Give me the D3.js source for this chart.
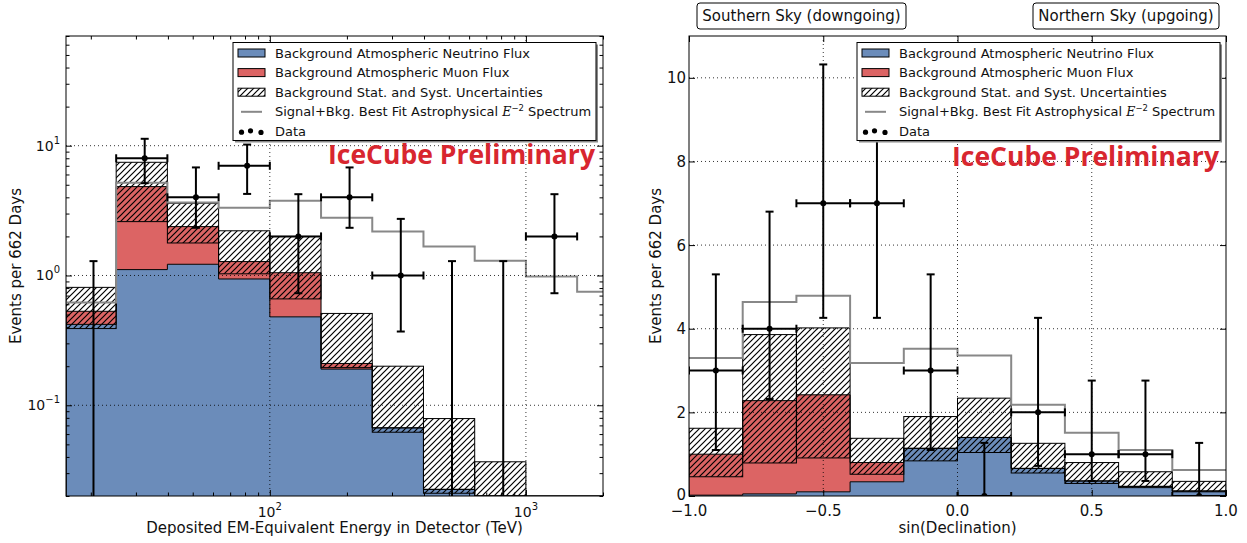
<!DOCTYPE html>
<html>
<head>
<meta charset="utf-8">
<script src="https://cdn.jsdelivr.net/npm/d3@7"></script>
<style>
body { margin: 0; background: #fff; }
svg { display: block; font-family: "DejaVu Sans", sans-serif; }
text { white-space: pre; }
</style>
</head>
<body>
<svg id="chart" width="1247" height="543"></svg>
<script>
// left panel: deposited energy (TeV), log bins
const energyEdges = [15.85, 25.12, 39.81, 63.10, 100, 158.5, 251.2, 398.1, 631.0, 1000, 1585, 2512];
const energyNu = [0.42, 1.11, 1.22, 0.94, 0.48, 0.19, 0.067, 0.0225, 0.008, 0, 0];
const energyMu = [0.11, 3.73, 1.16, 0.34, 0.57, 0.02, 0, 0, 0, 0, 0];
const energyBandLo = [0.39, 2.6, 1.78, 1.03, 0.66, 0.195, 0.062, 0.021, 0.005, 0, 0];
const energyBandHi = [0.81, 7.45, 3.6, 2.21, 2.0, 0.51, 0.2, 0.079, 0.0367, 0, 0];
const energySignal = [0.62, 5.19, 3.65, 3.33, 3.76, 2.79, 2.18, 1.67, 1.30, 0.98, 0.75];
const energyData = [0, 8, 4, 7, 2, 4, 1, 0, 0, 2];
const energyErrLo = [0, 5.14, 2.33, 4.25, 0.73, 2.33, 0.37, 0, 0, 0.73];
const energyErrHi = [1.29, 11.3, 6.8, 10.2, 4.23, 6.8, 2.73, 1.29, 1.29, 4.23];
const energyTicks = [100, 1000];
const energyTickExp = ['2', '3'];
const logCountTicks = [0.1, 1, 10];
const logCountTickExp = ['\u22121', '0', '1'];

// right panel: sin(declination)
const decEdges = [-1, -0.8, -0.6, -0.4, -0.2, 0, 0.2, 0.4, 0.6, 0.8, 1];
const decNu = [0.02, 0.05, 0.10, 0.34, 1.14, 1.40, 0.66, 0.36, 0.23, 0.12];
const decMu = [0.98, 2.23, 2.32, 0.46, 0, 0, 0, 0, 0, 0];
const decBandLo = [0.46, 0.79, 0.91, 0.52, 0.84, 1.04, 0.55, 0.30, 0.20, 0.10];
const decBandHi = [1.62, 3.86, 4.02, 1.38, 1.90, 2.34, 1.26, 0.80, 0.58, 0.35];
const decSignal = [3.30, 4.64, 4.79, 3.18, 3.52, 3.36, 2.18, 1.51, 1.10, 0.62];
const decData = [3, 4, 7, 7, 3, 0, 2, 1, 1, 0];
const decErrLo = [1.10, 2.32, 4.26, 4.26, 1.10, 0, 0.72, 0.36, 0.36, 0];
const decErrHi = [5.30, 6.80, 10.32, 10.32, 5.30, 1.27, 4.26, 2.76, 2.76, 1.27];
const decTicks = [-1, -0.5, 0, 0.5, 1];
const decTickLabels = ['\u22121.0', '\u22120.5', '0.0', '0.5', '1.0'];
const countTicks = [0, 2, 4, 6, 8, 10];

const legendLabels = [
	'Background Atmospheric Neutrino Flux',
	'Background Atmospheric Muon Flux',
	'Background Stat. and Syst. Uncertainties',
	'Signal+Bkg. Best Fit Astrophysical ',
	'Data'
];
const skyTitles = ['Southern Sky (downgoing)', 'Northern Sky (upgoing)'];

const blue = '#6b8cba', red = '#dc6464', gray = '#888888', ink = '#111';
const tiny = 1e-9;

const svg = d3.select('#chart');
const defs = svg.append('defs');

const hatch = defs.append('pattern')
	.attr('id', 'hatch')
	.attr('patternUnits', 'userSpaceOnUse')
	.attr('width', 6).attr('height', 6);
hatch.append('path')
	.attr('d', 'M0,6 L6,0 M-1,1 L1,-1 M5,7 L7,5')
	.attr('stroke', '#000').attr('stroke-width', 1.2);

function clipFor(id, x0, y0, x1, y1){
	defs.append('clipPath').attr('id', id)
		.append('rect').attr('x', x0).attr('y', y0).attr('width', x1 - x0).attr('height', y1 - y0);
	return 'url(#' + id + ')';
}

function stepPath(x, y, edges, vals, base){
	let p = 'M' + x(edges[0]) + ',' + y(base);
	vals.forEach(function(v, i){ p += 'V' + y(v) + 'H' + x(edges[i + 1]); });
	return p + 'V' + y(base);
}

// filled region between two step profiles
function stepArea(x, y, edges, lower, upper){
	let p = 'M' + x(edges[0]) + ',' + y(upper[0]);
	upper.forEach(function(v, i){ p += 'V' + y(v) + 'H' + x(edges[i + 1]); });
	for (let i = lower.length - 1; i >= 0; i--) p += 'V' + y(lower[i]) + 'H' + x(edges[i]);
	return p + 'Z';
}

function signalPath(x, y, edges, vals){
	let p = 'M' + x(edges[0]) + ',' + y(vals[0]);
	vals.forEach(function(v, i){ p += 'V' + y(v) + 'H' + x(edges[i + 1]); });
	return p;
}

function drawHist(g, x, y, o){
	const base = y.domain()[0];
	const nu = o.nu.map(function(v){ return Math.max(v, tiny) });
	const tops = o.nu.map(function(v, i){ return Math.max(v + o.mu[i], tiny) });
	const floor = o.nu.map(function(){ return base });

	g.append('path').attr('d', stepArea(x, y, o.edges, floor, nu)).attr('fill', blue);
	g.append('path').attr('d', stepArea(x, y, o.edges, nu, tops)).attr('fill', red);
	g.append('path').attr('d', stepPath(x, y, o.edges, nu, base))
		.attr('fill', 'none').attr('stroke', '#000').attr('stroke-width', 1);
	g.append('path').attr('d', stepPath(x, y, o.edges, tops, base))
		.attr('fill', 'none').attr('stroke', '#000').attr('stroke-width', 1);

	const bins = o.hi.map(function(h, i){
		return { x0: x(o.edges[i]), x1: x(o.edges[i + 1]), lo: Math.max(o.lo[i], tiny), hi: h };
	}).filter(function(d){ return d.hi > 0 });

	g.selectAll('rect.band').data(bins).enter().append('rect')
		.attr('x', function(d){ return d.x0 })
		.attr('width', function(d){ return d.x1 - d.x0 })
		.attr('y', function(d){ return y(d.hi) })
		.attr('height', function(d){ return y(d.lo) - y(d.hi) })
		.attr('fill', 'url(#hatch)')
		.attr('stroke', '#000').attr('stroke-width', 1);
}

function drawGrid(g, x, y, xs, ys, box){
	g.selectAll('line.gx').data(xs).enter().append('line')
		.attr('x1', function(d){ return x(d) }).attr('x2', function(d){ return x(d) })
		.attr('y1', box[1]).attr('y2', box[3])
		.attr('stroke', '#000').attr('stroke-width', 0.8).attr('stroke-dasharray', '1,3');
	g.selectAll('line.gy').data(ys).enter().append('line')
		.attr('y1', function(d){ return y(d) }).attr('y2', function(d){ return y(d) })
		.attr('x1', box[0]).attr('x2', box[2])
		.attr('stroke', '#000').attr('stroke-width', 0.8).attr('stroke-dasharray', '1,3');
}

function drawData(g, x, y, o, logY){
	const pts = o.data.map(function(d, i){
		return { x0: o.edges[i], x1: o.edges[i + 1], xc: (o.edges[i] + o.edges[i + 1]) / 2, v: d, lo: o.errLo[i], hi: o.errHi[i] };
	});
	pts.forEach(function(p){
		const cx = x(p.xc);
		const show = !(logY && p.v <= 0);
		const yLo = (logY && p.lo <= 0) ? y.range()[0] + 2 : y(p.lo);
		g.append('line').attr('x1', cx).attr('x2', cx).attr('y1', yLo).attr('y2', y(p.hi))
			.attr('stroke', '#000').attr('stroke-width', 2);
		g.append('line').attr('x1', cx - 4).attr('x2', cx + 4).attr('y1', y(p.hi)).attr('y2', y(p.hi))
			.attr('stroke', '#000').attr('stroke-width', 2);
		if (!show) return;
		const cy = y(p.v);
		g.append('line').attr('x1', cx - 4).attr('x2', cx + 4).attr('y1', yLo).attr('y2', yLo)
			.attr('stroke', '#000').attr('stroke-width', 2);
		g.append('line').attr('x1', x(p.x0)).attr('x2', x(p.x1)).attr('y1', cy).attr('y2', cy)
			.attr('stroke', '#000').attr('stroke-width', 2);
		[p.x0, p.x1].forEach(function(e){
			g.append('line').attr('x1', x(e)).attr('x2', x(e)).attr('y1', cy - 4).attr('y2', cy + 4)
				.attr('stroke', '#000').attr('stroke-width', 2);
		});
		g.append('circle').attr('cx', cx).attr('cy', cy).attr('r', 3).attr('fill', '#000');
	});
}

function drawTicks(g, x, y, xMajor, xMinor, yMajor, yMinor, box){
	const put = function(axis, tr, vals, size){
		g.append('g').attr('transform', tr)
			.call(axis.tickValues(vals).tickSize(-size).tickSizeOuter(0).tickFormat(''))
			.call(function(s){ s.select('.domain').remove(); s.selectAll('line').attr('stroke', '#000'); });
	};
	put(d3.axisBottom(x), 'translate(0,' + box[3] + ')', xMajor, 6);
	put(d3.axisTop(x), 'translate(0,' + box[1] + ')', xMajor, 6);
	put(d3.axisLeft(y), 'translate(' + box[0] + ',0)', yMajor, 6);
	put(d3.axisRight(y), 'translate(' + box[2] + ',0)', yMajor, 6);
	if (xMinor.length){
		put(d3.axisBottom(x), 'translate(0,' + box[3] + ')', xMinor, 3.5);
		put(d3.axisTop(x), 'translate(0,' + box[1] + ')', xMinor, 3.5);
	}
	if (yMinor.length){
		put(d3.axisLeft(y), 'translate(' + box[0] + ',0)', yMinor, 3.5);
		put(d3.axisRight(y), 'translate(' + box[2] + ',0)', yMinor, 3.5);
	}
	g.append('rect').attr('x', box[0]).attr('y', box[1])
		.attr('width', box[2] - box[0]).attr('height', box[3] - box[1])
		.attr('fill', 'none').attr('stroke', '#000').attr('stroke-width', 1);
}

function drawLegend(g, left, top){
	const w = 363, h = 98;
	g.append('rect').attr('x', left + 2).attr('y', top + 2).attr('width', w).attr('height', h).attr('fill', '#8a8a8a');
	g.append('rect').attr('x', left).attr('y', top).attr('width', w).attr('height', h)
		.attr('fill', '#fff').attr('stroke', '#000').attr('stroke-width', 1);
	legendLabels.forEach(function(label, i){
		const cy = top + 10.5 + i * 19.6;
		if (i < 3){
			g.append('rect').attr('x', left + 5).attr('y', cy - 4).attr('width', 27).attr('height', 8)
				.attr('fill', i === 0 ? blue : i === 1 ? red : 'url(#hatch)')
				.attr('stroke', '#000').attr('stroke-width', 1);
		} else if (i === 3){
			g.append('line').attr('x1', left + 8).attr('x2', left + 29).attr('y1', cy).attr('y2', cy)
				.attr('stroke', gray).attr('stroke-width', 2);
		} else {
			[[8.5, 0.8], [17.5, -0.6], [28, 1]].forEach(function(d){
				g.append('circle').attr('cx', left + d[0]).attr('cy', cy + d[1]).attr('r', 2.6).attr('fill', '#000');
			});
		}
		const t = g.append('text').attr('x', left + 42).attr('y', cy + 4.5)
			.attr('font-size', 13).attr('fill', ink).text(label);
		if (i === 3){
			t.append('tspan').attr('font-family', '"DejaVu Serif", serif').attr('font-style', 'italic')
				.attr('font-size', 12.5).text('E');
			t.append('tspan').attr('dy', -5).attr('font-size', 8.5).text('\u22122');
			t.append('tspan').attr('dy', 5).text(' Spectrum');
		}
	});
}

function preliminary(g, x, y){
	g.append('text').attr('x', x).attr('y', y)
		.attr('font-family', '"Open Sans", "DejaVu Sans", sans-serif')
		.attr('font-weight', 'bold').attr('font-size', 26)
		.attr('textLength', 267).attr('lengthAdjust', 'spacingAndGlyphs')
		.attr('fill', '#d8262f').text('IceCube Preliminary');
}

// ---- left panel ----
const boxE = [66, 36, 603, 496];
const xE = d3.scaleLog().domain([16, 2000]).range([boxE[0], boxE[2]]).clamp(true);
const yE = d3.scaleLog().domain([0.02, 70]).range([boxE[3], boxE[1]]).clamp(true);

const left = svg.append('g');
const leftPlot = left.append('g').attr('clip-path', clipFor('clipE', boxE[0], boxE[1], boxE[2], boxE[3]));
drawHist(leftPlot, xE, yE, { edges: energyEdges, nu: energyNu, mu: energyMu, lo: energyBandLo, hi: energyBandHi });
leftPlot.append('path').attr('d', signalPath(xE, yE, energyEdges, energySignal))
	.attr('fill', 'none').attr('stroke', gray).attr('stroke-width', 2);
drawGrid(leftPlot, xE, yE, energyTicks, logCountTicks, boxE);
drawData(leftPlot, xE, yE, { edges: energyEdges, data: energyData, errLo: energyErrLo, errHi: energyErrHi }, true);

const eMinor = xE.ticks().filter(function(t){ return energyTicks.indexOf(t) < 0 });
const cMinor = yE.ticks().filter(function(t){ return logCountTicks.indexOf(t) < 0 });
drawTicks(left, xE, yE, energyTicks, eMinor, logCountTicks, cMinor, boxE);

energyTicks.forEach(function(t, i){
	const lab = left.append('text').attr('x', xE(t)).attr('y', 516.5)
		.attr('text-anchor', 'middle').attr('font-size', 14).attr('fill', ink);
	lab.append('tspan').text('10');
	lab.append('tspan').attr('dy', -7).attr('font-size', 10).text(energyTickExp[i]);
});
logCountTicks.forEach(function(t, i){
	const lab = left.append('text').attr('x', 60).attr('y', yE(t) + 5)
		.attr('text-anchor', 'end').attr('font-size', 14).attr('fill', ink);
	lab.append('tspan').text('10');
	lab.append('tspan').attr('dy', -7).attr('font-size', 10).text(logCountTickExp[i]);
});

left.append('text').attr('x', (boxE[0] + boxE[2]) / 2).attr('y', 533)
	.attr('text-anchor', 'middle').attr('font-size', 15).attr('fill', ink)
	.text('Deposited EM-Equivalent Energy in Detector (TeV)');
left.append('text').attr('transform', 'translate(21,266) rotate(-90)')
	.attr('text-anchor', 'middle').attr('font-size', 15).attr('fill', ink)
	.text('Events per 662 Days');

preliminary(left, 328, 163.5);
drawLegend(left, 233, 42.5);

// ---- right panel ----
const boxD = [689, 36, 1226, 496];
const xD = d3.scaleLinear().domain([-1, 1]).range([boxD[0], boxD[2]]);
const yD = d3.scaleLinear().domain([0, 11]).range([boxD[3], boxD[1]]);

const right = svg.append('g');
const rightPlot = right.append('g').attr('clip-path', clipFor('clipD', boxD[0], boxD[1], boxD[2], boxD[3]));
drawHist(rightPlot, xD, yD, { edges: decEdges, nu: decNu, mu: decMu, lo: decBandLo, hi: decBandHi });
rightPlot.append('path').attr('d', signalPath(xD, yD, decEdges, decSignal))
	.attr('fill', 'none').attr('stroke', gray).attr('stroke-width', 2);
drawGrid(rightPlot, xD, yD, decTicks.slice(1, -1), countTicks.slice(1), boxD);
drawData(rightPlot, xD, yD, { edges: decEdges, data: decData, errLo: decErrLo, errHi: decErrHi }, false);

drawTicks(right, xD, yD, decTicks, [], countTicks, [], boxD);

decTicks.forEach(function(t, i){
	right.append('text').attr('x', xD(t)).attr('y', 516)
		.attr('text-anchor', 'middle').attr('font-size', 15).attr('fill', ink).text(decTickLabels[i]);
});
countTicks.forEach(function(t){
	right.append('text').attr('x', 686).attr('y', yD(t) + (t === 0 ? 3.5 : 5.5))
		.attr('text-anchor', 'end').attr('font-size', 15).attr('fill', ink).text(t);
});

right.append('text').attr('x', (boxD[0] + boxD[2]) / 2).attr('y', 533)
	.attr('text-anchor', 'middle').attr('font-size', 15).attr('fill', ink)
	.text('sin(Declination)');
right.append('text').attr('transform', 'translate(661,266) rotate(-90)')
	.attr('text-anchor', 'middle').attr('font-size', 15).attr('fill', ink)
	.text('Events per 662 Days');

preliminary(right, 952, 166);
drawLegend(right, 857, 42.5);

// boxed sky titles above the right panel
[[697, 906], [1033, 1219]].forEach(function(b, i){
	right.append('rect').attr('x', b[0]).attr('y', 3).attr('width', b[1] - b[0]).attr('height', 26)
		.attr('rx', 3).attr('fill', '#fff').attr('stroke', '#000').attr('stroke-width', 1);
	right.append('text').attr('x', (b[0] + b[1]) / 2).attr('y', 21)
		.attr('text-anchor', 'middle').attr('font-size', 15).attr('fill', ink).text(skyTitles[i]);
});
</script>
</body>
</html>
